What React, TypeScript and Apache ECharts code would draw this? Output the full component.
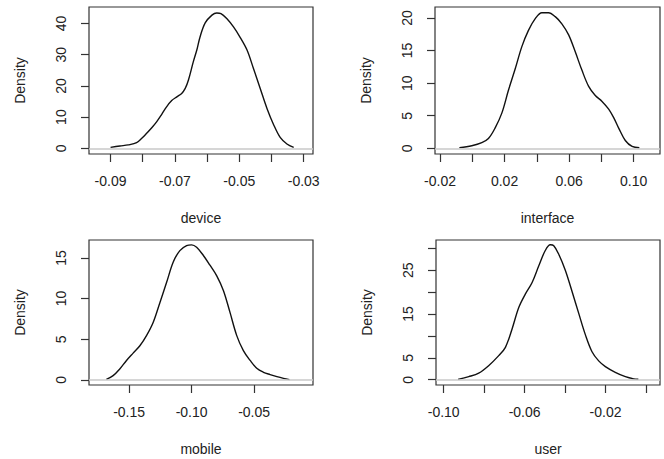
import React, { useEffect, useRef } from "react";
import * as echarts from "echarts";

// ---- data ----
const deviceX = [-0.09, -0.0871, -0.0845, -0.0819, -0.0803, -0.0788, -0.0772, -0.0757, -0.0741, -0.0726, -0.071, -0.0694, -0.0679, -0.0668, -0.0658, -0.0643, -0.0632, -0.0622, -0.0606, -0.0585, -0.057, -0.0557, -0.0539, -0.0518, -0.0497, -0.0476, -0.0456, -0.0435, -0.0414, -0.0393, -0.0373, -0.0352, -0.0331];
const deviceY = [0.3, 0.75, 1.1, 1.8, 3.2, 4.8, 6.6, 8.5, 10.9, 13.3, 15.3, 16.5, 17.6, 19.2, 21.9, 27.7, 31.5, 35.7, 40.2, 42.7, 43.4, 43.2, 41.6, 38.9, 35.5, 31.5, 25.6, 19.2, 12.8, 7.5, 3.5, 1.4, 0.3];

const interfaceX = [-0.008, -0.0003, 0.0059, 0.01, 0.0141, 0.0183, 0.0224, 0.0266, 0.0307, 0.0348, 0.039, 0.0431, 0.0472, 0.0514, 0.0555, 0.0597, 0.0638, 0.0679, 0.0721, 0.0762, 0.0804, 0.0845, 0.0876, 0.0907, 0.0948, 0.099, 0.1035];
const interfaceY = [0.1, 0.4, 0.87, 1.5, 3.1, 5.4, 8.9, 12.2, 15.6, 18.1, 19.9, 20.8, 20.8, 20.2, 19.1, 17.4, 14.8, 12.0, 9.5, 8.1, 7.2, 6.0, 4.7, 3.1, 1.2, 0.3, 0.1];

const mobileX = [-0.1682, -0.1628, -0.1575, -0.1521, -0.1468, -0.1414, -0.1361, -0.1307, -0.1254, -0.12, -0.1147, -0.1094, -0.104, -0.1, -0.096, -0.0906, -0.0853, -0.0799, -0.0746, -0.0693, -0.0639, -0.0586, -0.0532, -0.0479, -0.0425, -0.0372, -0.0318, -0.0265, -0.0217];
const mobileY = [0.08, 0.53, 1.35, 2.4, 3.3, 4.2, 5.45, 7.1, 9.5, 12.0, 14.5, 15.9, 16.5, 16.6, 16.3, 15.3, 14.1, 12.8, 11.0, 8.3, 5.45, 3.6, 2.4, 1.43, 0.94, 0.66, 0.41, 0.2, 0.04];

const userX = [-0.0929, -0.0876, -0.0827, -0.0778, -0.0728, -0.0695, -0.0662, -0.0629, -0.0596, -0.0563, -0.053, -0.0498, -0.0473, -0.0456, -0.0432, -0.0399, -0.0366, -0.0333, -0.03, -0.0267, -0.0234, -0.0201, -0.0152, -0.0102, -0.0061, -0.0038];
const userY = [0.08, 0.7, 1.5, 3.2, 5.5, 7.4, 11.6, 16.5, 19.6, 22.2, 26.0, 29.5, 30.8, 30.6, 28.7, 25.0, 20.2, 15.2, 10.3, 6.4, 4.3, 3.0, 1.7, 0.7, 0.2, 0.1];

const deviceXTicks = [-0.09, -0.08, -0.07, -0.06, -0.05, -0.04, -0.03];
const deviceXLabels = [-0.09, -0.07, -0.05, -0.03];
const deviceYTicks = [0, 10, 20, 30, 40];
const deviceYLabels = [0, 10, 20, 30, 40];

const interfaceXTicks = [-0.02, 0, 0.02, 0.04, 0.06, 0.08, 0.1];
const interfaceXLabels = [-0.02, 0.02, 0.06, 0.1];
const interfaceYTicks = [0, 5, 10, 15, 20];
const interfaceYLabels = [0, 5, 10, 15, 20];

const mobileXTicks = [-0.15, -0.1, -0.05];
const mobileXLabels = [-0.15, -0.1, -0.05];
const mobileYTicks = [0, 5, 10, 15];
const mobileYLabels = [0, 5, 10, 15];

const userXTicks = [-0.1, -0.08, -0.06, -0.04, -0.02, 0];
const userXLabels = [-0.1, -0.06, -0.02];
const userYTicks = [0, 5, 10, 15, 20, 25, 30];
const userYLabels = [0, 5, 15, 25];

const panels = [
  { name: "device", xs: deviceX, ys: deviceY, xt: deviceXTicks, xl: deviceXLabels, yt: deviceYTicks, yl: deviceYLabels,
    xr: [-0.0967, -0.0271], yr: [-1.82, 45.3], grid: { left: 89, top: 7, width: 224, height: 147 } },
  { name: "interface", xs: interfaceX, ys: interfaceY, xt: interfaceXTicks, xl: interfaceXLabels, yt: interfaceYTicks, yl: interfaceYLabels,
    xr: [-0.0231, 0.1163], yr: [-0.87, 21.68], grid: { left: 435, top: 7, width: 225, height: 147 } },
  { name: "mobile", xs: mobileX, ys: mobileY, xt: mobileXTicks, xl: mobileXLabels, yt: mobileYTicks, yl: mobileYLabels,
    xr: [-0.1821, -0.0029], yr: [-0.62, 17.2], grid: { left: 89, top: 240, width: 224, height: 145 } },
  { name: "user", xs: userX, ys: userY, xt: userXTicks, xl: userXLabels, yt: userYTicks, yl: userYLabels,
    xr: [-0.1038, 0.0069], yr: [-1.2, 31.9], grid: { left: 436, top: 240, width: 224, height: 145 } },
];

const FONT = "'Liberation Sans', Arial, sans-serif";
const TXT = "#222";
const AX = "#333";

export default function App() {
  const ref = useRef<HTMLDivElement>(null);
  useEffect(() => {
    if (!ref.current) return;
    const chart = echarts.init(ref.current, undefined, { renderer: "svg" });
    const grid = panels.map((p) => ({
      ...p.grid,
      show: true,
      borderColor: AX,
      borderWidth: 1.2,
      backgroundColor: "transparent",
      containLabel: false,
    }));
    const xAxis = panels.map((p, i) => ({
      type: "value",
      gridIndex: i,
      position: "bottom",
      min: p.xr[0],
      max: p.xr[1],
      axisLine: { show: false, onZero: false },
      splitLine: { show: false },
      axisTick: { show: true, length: 8, customValues: p.xt, lineStyle: { color: AX, width: 1.2 } },
      axisLabel: {
        show: true,
        customValues: p.xl,
        margin: 20,
        color: TXT,
        fontSize: 14,
        fontFamily: FONT,
        formatter: (v: number) => v.toFixed(2),
      },
      name: p.name,
      nameLocation: "middle",
      nameGap: 57,
      nameTextStyle: { color: TXT, fontSize: 14, fontFamily: FONT },
    }));
    const yAxis = panels.map((p, i) => ({
      type: "value",
      gridIndex: i,
      position: "left",
      min: p.yr[0],
      max: p.yr[1],
      axisLine: { show: false, onZero: false },
      splitLine: { show: false },
      axisTick: { show: true, length: 8, customValues: p.yt, lineStyle: { color: AX, width: 1.2 } },
      axisLabel: {
        show: true,
        customValues: p.yl,
        rotate: 90,
        margin: 21,
        color: TXT,
        fontSize: 14,
        fontFamily: FONT,
        formatter: (v: number) => String(Math.round(v)),
      },
      name: "Density",
      nameLocation: "middle",
      nameGap: 62,
      nameTextStyle: { color: TXT, fontSize: 14, fontFamily: FONT },
    }));
    const series: any[] = [];
    panels.forEach((p, i) => {
      series.push({
        type: "line",
        xAxisIndex: i,
        yAxisIndex: i,
        data: p.xs.map((x, k) => [x, p.ys[k]]),
        showSymbol: false,
        smooth: 0.35,
        lineStyle: { color: "#111", width: 1.4 },
        z: 2,
        markLine: {
          silent: true,
          symbol: "none",
          label: { show: false },
          lineStyle: { color: "#c8c8c8", type: "solid", width: 1.5 },
          data: [{ yAxis: 0 }],
          z: 3,
        },
      });
    });
    chart.setOption({
      animation: false,
      backgroundColor: "#fff",
      grid,
      xAxis,
      yAxis,
      series,
    });
    return () => chart.dispose();
  }, []);
  return (
    <div
      ref={ref}
      style={{ position: "absolute", left: 0, top: 0, width: 664, height: 459 }}
    />
  );
}
